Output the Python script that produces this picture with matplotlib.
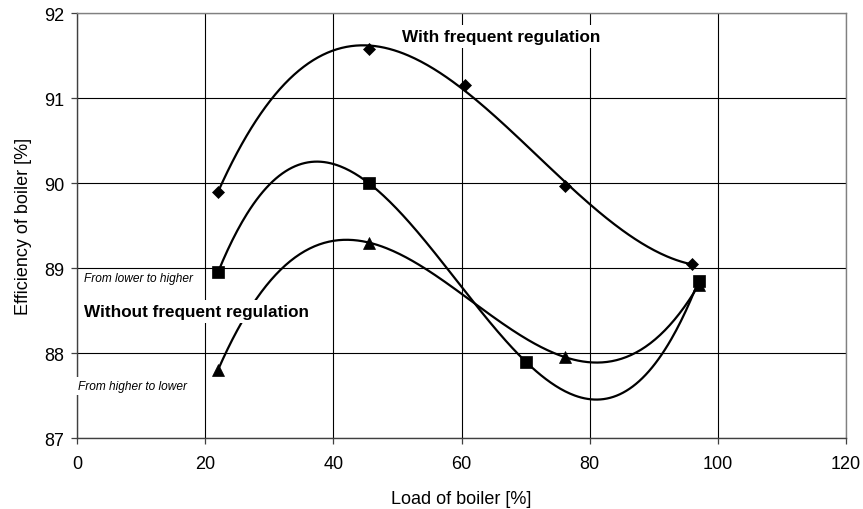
import numpy as np
import matplotlib
matplotlib.use("Agg")
import matplotlib.pyplot as plt

# * Data
# with frequent regulation -> diamonds
load_freq = [22, 45.5, 60.5, 76.2, 96]
eff_freq = [89.9, 91.58, 91.15, 89.97, 89.05]

# without frequent regulation, from lower to higher -> squares
load_up = [22, 45.5, 70, 97]
eff_up = [88.95, 90.0, 87.9, 88.85]

# without frequent regulation, from higher to lower -> triangles
load_down = [22, 45.5, 76.2, 97]
eff_down = [87.8, 89.3, 87.95, 88.8]

x_ticks = [0, 20, 40, 60, 80, 100, 120]
y_ticks = [87, 88, 89, 90, 91, 92]

plt.rcParams['font.family'] = ['Liberation Sans', 'DejaVu Sans']

W, H = 863, 510
fig = plt.figure(figsize=(W / 100, H / 100), dpi=100)
ax = fig.add_axes([77 / W, 1 - 439 / H, (846 - 77) / W, (439 - 14) / H])


def add_series(x, y, marker, ms):
    # excel style polynomial trendline (order 3) plus the markers
    coef = np.polyfit(x, y, 3)
    xs = np.linspace(min(x), max(x), 300)
    ax.plot(xs, np.polyval(coef, xs), color='black', lw=1.6, zorder=3,
            solid_capstyle='round')
    ax.plot(x, y, linestyle='none', marker=marker, ms=ms, color='black',
            mew=0.5, zorder=4)


add_series(load_freq, eff_freq, 'D', 6.0)
add_series(load_up, eff_up, 's', 8.5)
add_series(load_down, eff_down, '^', 8.5)

ax.set_xlim(x_ticks[0], x_ticks[-1])
ax.set_ylim(y_ticks[0], y_ticks[-1])
ax.set_xticks(x_ticks)
ax.set_yticks(y_ticks)
ax.grid(True, color='black', lw=0.8, zorder=1)
ax.set_axisbelow(True)

for side in ['top', 'right']:
    ax.spines[side].set_color('#808080')
    ax.spines[side].set_linewidth(1.0)
for side in ['left', 'bottom']:
    ax.spines[side].set_color('#404040')
    ax.spines[side].set_linewidth(1.0)

ax.tick_params(axis='both', direction='out', length=4, width=0.9,
               labelsize=13, color='#404040')
ax.tick_params(axis='x', pad=8)
ax.tick_params(axis='y', pad=5)

ax.set_xlabel('Load of boiler [%]', fontsize=13, labelpad=13)
ax.set_ylabel('Efficiency of boiler [%]', fontsize=13, labelpad=9)

# * Annotations
box = dict(facecolor='white', edgecolor='none', pad=3)
ax.text(50.7, 91.72, 'With frequent regulation', fontsize=12.3,
        fontweight='bold', ha='left', va='center', bbox=box, zorder=5)
ax.text(1.1, 88.49, 'Without frequent regulation', fontsize=12.3,
        fontweight='bold', ha='left', va='center', bbox=box, zorder=5)
ax.text(1.1, 88.88, 'From lower to higher', fontsize=8.6, style='italic',
        ha='left', va='center', bbox=dict(facecolor='white', edgecolor='none', pad=1),
        zorder=5)
ax.text(0.2, 87.61, 'From higher to lower', fontsize=8.6, style='italic',
        ha='left', va='center', bbox=dict(facecolor='white', edgecolor='none', pad=2),
        zorder=5, clip_on=False)

fig.savefig('out.png', dpi=100)
